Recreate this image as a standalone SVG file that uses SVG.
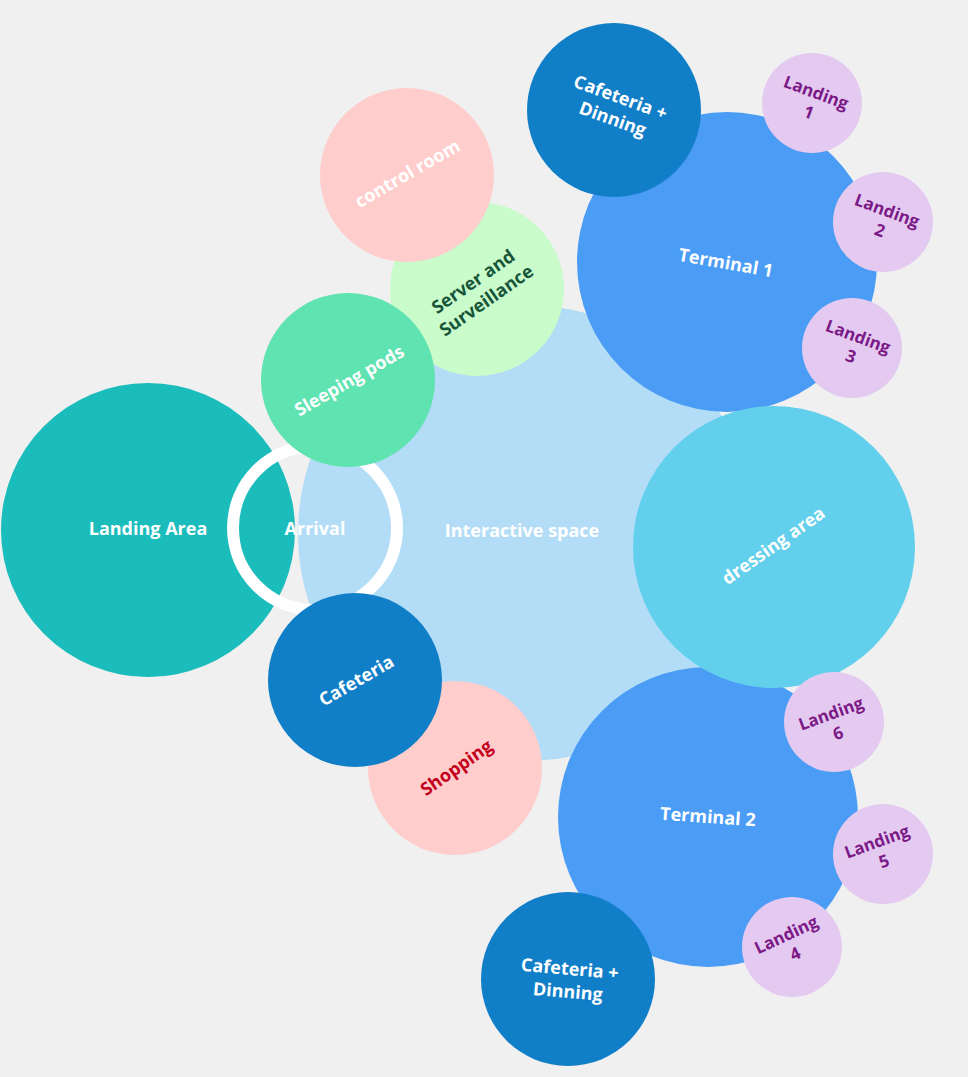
<svg xmlns="http://www.w3.org/2000/svg" width="968" height="1077" viewBox="0 0 968 1077">
<style>
text{font-family:"Open Sans","Noto Sans","Liberation Sans",sans-serif;font-weight:700;font-size:18px;text-anchor:middle;dominant-baseline:central}
.w{fill:#ffffff}
.p{fill:#7b1a86;font-size:17px}
.g{fill:#17553a}
.r{fill:#c4001c}
.lav{fill:#e4c9f1}
.dark{fill:#117ec8}
.t{fill:#4a9cf5}
.pink{fill:#ffcdcc}
</style>
<rect width="968" height="1077" fill="#f0f0f0"/>
<g id="interactive-space"><circle cx="526" cy="533" r="228" fill="#b3ddf6"/><text class="w" x="522" y="530">Interactive space</text></g>
<g id="landing-area"><circle cx="148" cy="530" r="147" fill="#1bbcbc"/><text class="w" x="148" y="528">Landing Area</text></g>
<g id="arrival"><circle cx="315" cy="528" r="82" fill="none" stroke="#ffffff" stroke-width="12"/><text class="w" x="315" y="528">Arrival</text></g>
<g id="server"><circle cx="477" cy="289" r="87" fill="#c9fbcb"/><text class="g" transform="translate(479 290) rotate(-35)"><tspan x="0" dy="-11">Server and</tspan><tspan x="0" dy="23">Surveillance</tspan></text></g>
<g id="control-room"><circle cx="407" cy="175" r="87" class="pink"/><text class="w" transform="translate(407 173) rotate(-30)">control room</text></g>
<g id="sleeping-pods"><circle cx="348" cy="380" r="87" fill="#5fe3b1"/><text class="w" transform="translate(349 380) rotate(-30)">Sleeping pods</text></g>
<g id="shopping"><circle cx="455" cy="768" r="87" class="pink"/><text class="r" transform="translate(456 767) rotate(-35)">Shopping</text></g>
<g id="cafeteria"><circle cx="355" cy="680" r="87" class="dark"/><text class="w" transform="translate(356 680) rotate(-30)">Cafeteria</text></g>
<g id="terminal-1"><circle cx="727" cy="262" r="150" class="t"/><text class="w" transform="translate(726 262) rotate(10)">Terminal 1</text></g>
<g id="terminal-2"><circle cx="708" cy="817" r="150" class="t"/><text class="w" transform="translate(708 816) rotate(4)">Terminal 2</text></g>
<g id="dressing-area"><circle cx="774" cy="547" r="141" fill="#62d0ec"/><text class="w" transform="translate(773 545) rotate(-35)">dressing area</text></g>
<g id="cafeteria-dinning-1"><circle cx="614" cy="110" r="87" class="dark"/><text class="w" transform="translate(617 107) rotate(20)"><tspan x="0" dy="-11">Cafeteria +</tspan><tspan x="0" dy="23">Dinning</tspan></text></g>
<g id="cafeteria-dinning-2"><circle cx="568" cy="979" r="87" class="dark"/><text class="w" transform="translate(569 979) rotate(5)"><tspan x="0" dy="-11">Cafeteria +</tspan><tspan x="0" dy="23">Dinning</tspan></text></g>
<g id="landing-1"><circle cx="812" cy="103" r="50" class="lav"/><text class="p" transform="translate(813 101) rotate(20)"><tspan x="0" dy="-10">Landing</tspan><tspan x="0" dy="21">1</tspan></text></g>
<g id="landing-2"><circle cx="883" cy="222" r="50" class="lav"/><text class="p" transform="translate(884 219) rotate(20)"><tspan x="0" dy="-10">Landing</tspan><tspan x="0" dy="21">2</tspan></text></g>
<g id="landing-3"><circle cx="852" cy="348" r="50" class="lav"/><text class="p" transform="translate(855 345) rotate(20)"><tspan x="0" dy="-10">Landing</tspan><tspan x="0" dy="21">3</tspan></text></g>
<g id="landing-6"><circle cx="834" cy="722" r="50" class="lav"/><text class="p" transform="translate(834 722) rotate(-20)"><tspan x="0" dy="-10">Landing</tspan><tspan x="0" dy="21">6</tspan></text></g>
<g id="landing-5"><circle cx="883" cy="854" r="50" class="lav"/><text class="p" transform="translate(880 850) rotate(-20)"><tspan x="0" dy="-10">Landing</tspan><tspan x="0" dy="21">5</tspan></text></g>
<g id="landing-4"><circle cx="792" cy="947" r="50" class="lav"/><text class="p" transform="translate(790 943) rotate(-25)"><tspan x="0" dy="-10">Landing</tspan><tspan x="0" dy="21">4</tspan></text></g>
<g id="connectors"></g>
</svg>
